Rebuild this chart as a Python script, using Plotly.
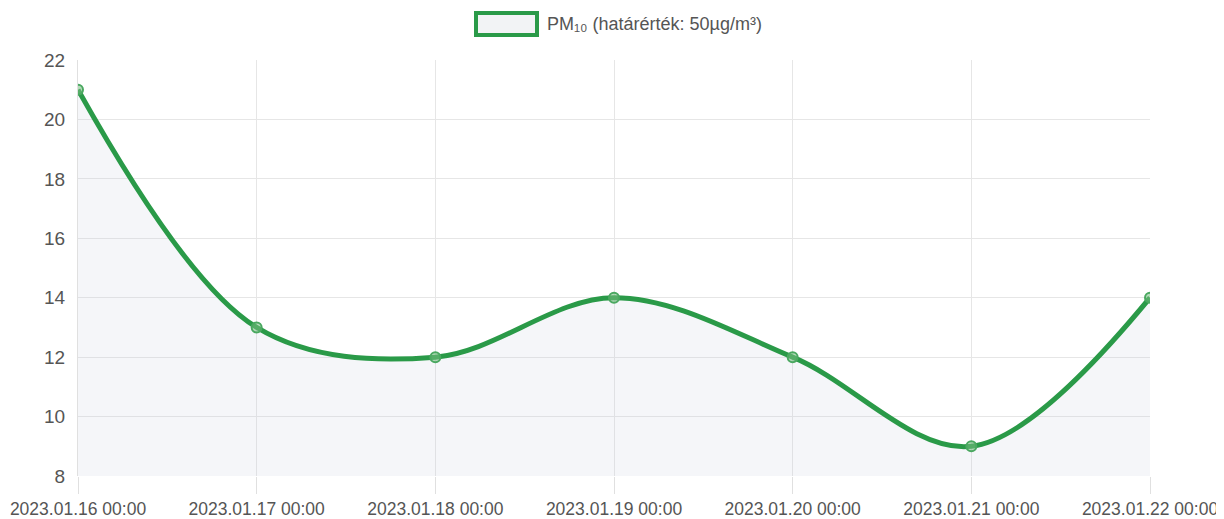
import plotly.graph_objects as go

categories = ["2023.01.16 00:00", "2023.01.17 00:00", "2023.01.18 00:00", "2023.01.19 00:00",
              "2023.01.20 00:00", "2023.01.21 00:00", "2023.01.22 00:00"]
pm10 = [21, 13, 12, 14, 12, 9, 14]
series_name = "PM₁₀ (határérték: 50µg/m³)"
y_ticks = [8, 10, 12, 14, 16, 18, 20, 22]

FONT = "Liberation Sans, Arial, sans-serif"
GREEN = "#2a9a48"

# page body adds an 8px offset; plot area in page coords: x 78..1150, y 60..476
PL, PR, PT, PB = 78, 1150, 60, 476
PW, PH = PR - PL, PB - PT
FW, FH = 1216, 511

fig = go.Figure()
fig.add_trace(go.Scatter(
    x=categories, y=pm10, name=series_name, mode="lines+markers",
    line=dict(color=GREEN, width=5, shape="spline", smoothing=1.0),
    marker=dict(symbol="circle", size=10, color="rgba(120,190,130,0.55)",
                line=dict(color="#4aa860", width=2)),
    fill="tozeroy", fillcolor="rgba(200,205,220,0.18)",
    showlegend=False,
))

fig.update_layout(
    width=FW, height=FH,
    margin=dict(l=PL - 8, r=FW - (PR - 8), t=PT - 8, b=FH - (PB - 8)),
    paper_bgcolor="white", plot_bgcolor="white",
    font=dict(family=FONT, size=17.5, color="#555555"),
    xaxis=dict(type="category", range=[0, len(categories) - 1], automargin=False,
               showgrid=True, gridcolor="#e6e6e6", gridwidth=1,
               ticks="outside", ticklen=17, tickcolor="#e0e0e0",
               showline=False, zeroline=False,
               tickfont=dict(family=FONT, size=17.5, color="#555555")),
    yaxis=dict(range=[8, 22], tickvals=y_ticks, automargin=False,
               showgrid=True, gridcolor="#e6e6e6",
               gridwidth=1, zeroline=False, showline=True, linecolor="#e0e0e0",
               ticks="outside", ticklen=8, tickcolor="rgba(0,0,0,0)",
               tickfont=dict(family=FONT, size=19, color="#555555")),
    shapes=[dict(type="rect", xref="paper", yref="paper",
                 x0=(476 - PL) / PW, x1=(537 - PL) / PW,
                 y0=1 + (PT - 35) / PH, y1=1 + (PT - 13) / PH,
                 line=dict(color=GREEN, width=4), fillcolor="#f2f3f5")],
    annotations=[dict(text=series_name, xref="paper", yref="paper",
                      x=(545 - PL) / PW, y=1 + (PT - 24) / PH,
                      xanchor="left", yanchor="middle", showarrow=False,
                      font=dict(family=FONT, size=18, color="#555555"))],
)

fig.write_html("out.html")
